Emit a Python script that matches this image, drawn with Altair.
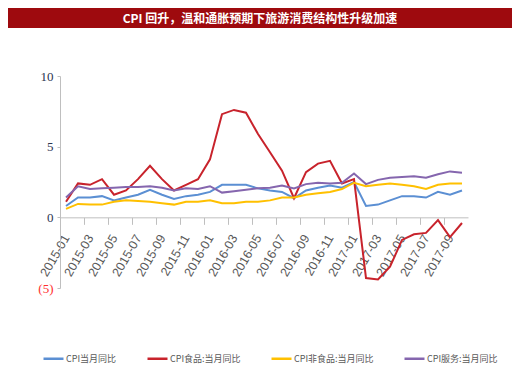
import altair as alt
import pandas as pd

months = [f"{y}-{m:02d}" for y in (2015, 2016, 2017) for m in range(1, 13)][:34]

cpi = [0.8, 1.4, 1.4, 1.5, 1.2, 1.4, 1.6, 1.95, 1.6, 1.3, 1.5, 1.6,
       1.8, 2.3, 2.3, 2.3, 2.05, 1.9, 1.8, 1.35, 1.9, 2.1, 2.25, 2.1,
       2.5, 0.8, 0.9, 1.2, 1.5, 1.5, 1.4, 1.8, 1.6, 1.9]
food = [1.1, 2.4, 2.3, 2.7, 1.6, 1.9, 2.7, 3.65, 2.7, 1.9, 2.3, 2.7,
        4.1, 7.3, 7.6, 7.4, 5.9, 4.6, 3.3, 1.35, 3.2, 3.8, 4.0, 2.4,
        2.7, -4.3, -4.4, -3.5, -1.6, -1.2, -1.1, -0.2, -1.4, -0.4]
nonfood = [0.6, 0.95, 0.9, 0.9, 1.1, 1.2, 1.15, 1.1, 1.0, 0.9, 1.1, 1.1,
           1.2, 1.0, 1.0, 1.1, 1.1, 1.2, 1.4, 1.4, 1.6, 1.7, 1.8, 2.0,
           2.45, 2.2, 2.3, 2.4, 2.3, 2.2, 2.0, 2.3, 2.4, 2.4]
services = [1.4, 2.2, 2.0, 2.05, 2.1, 2.15, 2.15, 2.2, 2.1, 1.9, 2.05, 2.0,
            2.2, 1.75, 1.85, 1.95, 2.05, 2.1, 2.25, 2.05, 2.35, 2.45, 2.4, 2.45,
            3.1, 2.35, 2.65, 2.8, 2.85, 2.9, 2.8, 3.05, 3.25, 3.15]

names = ["CPI当月同比", "CPI食品:当月同比", "CPI非食品:当月同比", "CPI服务:当月同比"]
colors = ["#5B8FD3", "#C8232C", "#FFC000", "#8566AE"]
series = [cpi, food, nonfood, services]

y_ticks = [-5, 0, 5, 10]
x_ticks = months[::2]

rows = []
for name, vals in zip(names, series):
    for i, (m, v) in enumerate(zip(months, vals)):
        rows.append({"month": m, "value": v, "series": name, "order": names.index(name)})
df = pd.DataFrame(rows)

W, H = 408, 212
zero_offset = -(H - H * 10 / 15)

lines = alt.Chart(df).mark_line(strokeWidth=2).encode(
    x=alt.X("month:O", sort=months,
            scale=alt.Scale(type="point", padding=0.5),
            axis=alt.Axis(values=x_ticks, labelAngle=300, labelAlign="right",
                          labelBaseline="middle", tickOffset=-6, labelOffset=6,
                          tickSize=7, offset=zero_offset, domainColor="#BFBFBF",
                          tickColor="#BFBFBF", labelColor="#595959",
                          labelFontSize=12.5, labelFont="Liberation Sans",
                          labelPadding=11, title=None)),
    y=alt.Y("value:Q",
            scale=alt.Scale(domain=[-5, 10], nice=False, zero=False),
            axis=alt.Axis(values=y_ticks, grid=False, tickSize=3, labelPadding=4,
                          domainColor="#BFBFBF", tickColor="#BFBFBF",
                          labelFont="Liberation Serif", labelFontSize=13,
                          labelExpr="datum.value < 0 ? '(' + abs(datum.value) + ')' : datum.label",
                          labelColor={"condition": {"test": "datum.value < 0", "value": "#FF3030"},
                                      "value": "#2B3550"},
                          title=None)),
    color=alt.Color("series:N", sort=names,
                    scale=alt.Scale(domain=names, range=colors),
                    legend=alt.Legend(orient="none", legendX=-18, legendY=271,
                                      direction="horizontal", title=None,
                                      symbolType="stroke", symbolSize=400,
                                      symbolStrokeWidth=2.5, labelFontSize=9,
                                      labelColor="#595959", labelFont="Noto Sans CJK SC",
                                      columnPadding=25, labelOffset=1, labelLimit=200)),
    order=alt.Order("order:Q"),
)

banner_df = pd.DataFrame({"text": ["CPI 回升，温和通胀预期下旅游消费结构性升级加速"]})
banner = alt.Chart(banner_df).mark_rect(color="#9E0A0E").encode(
    x=alt.value(-52), x2=alt.value(452), y=alt.value(-68), y2=alt.value(-48)
)
banner_text = alt.Chart(banner_df).mark_text(
    color="white", fontSize=12, fontWeight="bold", font="Noto Sans CJK SC",
    align="center", baseline="middle"
).encode(text="text:N", x=alt.value(200), y=alt.value(-57))

chart = alt.layer(banner, banner_text, lines).properties(
    width=W, height=H,
    title=alt.TitleParams("CPI指标详细拆分", anchor="middle", offset=10, fontSize=11,
                          color="#404040", font="Noto Sans CJK SC", fontWeight="bold", dx=-5),
    autosize=alt.AutoSizeParams(type="none"),
    padding={"left": 52, "top": 68, "right": 44, "bottom": 80},
).configure_view(stroke="transparent")

chart.save("out.html", embed_options={"renderer": "svg", "actions": False})
